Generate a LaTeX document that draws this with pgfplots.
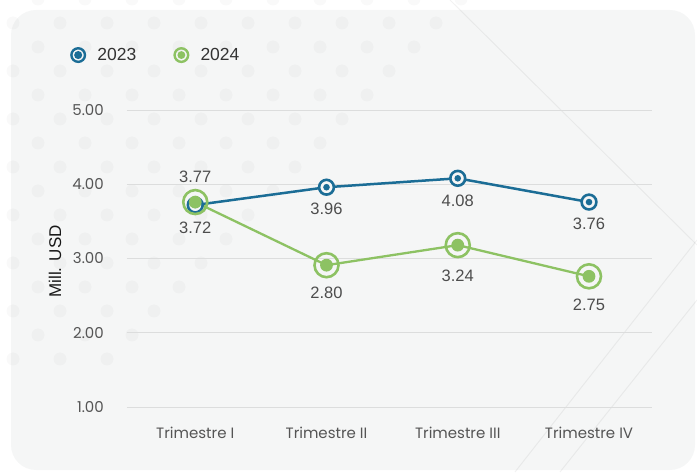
\documentclass[border=0pt]{standalone}
\usepackage{pgfplots}
\pgfplotsset{compat=1.18}
\usepackage{fontspec}
\setmainfont{Liberation Sans}
\newfontfamily\pop{Poppins}
\definecolor{bgc}{HTML}{F5F6F6}
\definecolor{cA}{HTML}{1B6D96}
\definecolor{cB}{HTML}{8DC263}
\definecolor{gridc}{HTML}{DCDDDD}
\definecolor{tickc}{HTML}{555555}
\definecolor{labc}{HTML}{4D4D4D}
\pgfdeclareplotmark{ringA}{%
  \pgfpathcircle{\pgfpointorigin}{7.4pt}%
  \pgfsetfillcolor{bgc}\pgfusepath{fill,stroke}%
  \pgfpathcircle{\pgfpointorigin}{3.3pt}%
  \pgfsetfillcolor{cA}\pgfusepath{fill}}
\pgfdeclareplotmark{ringB}{%
  \pgfpathcircle{\pgfpointorigin}{12pt}%
  \pgfusepath{stroke}%
  \pgfpathcircle{\pgfpointorigin}{6.4pt}%
  \pgfsetfillcolor{cB}\pgfusepath{fill}}
\pgfplotstableread{
x y lab off
0 3.72 3.72 -23
1 3.96 3.96 -22
2 4.08 4.08 -23
3 3.76 3.76 -22
}\tA
\pgfplotstableread{
x y lab off
0 3.76 3.77 25
1 2.91 2.80 -28
2 3.18 3.24 -31
3 2.76 2.75 -28
}\tB
\begin{document}
\begin{tikzpicture}[x=1pt,y=1pt]
\useasboundingbox (0,0) rectangle (697,472);
\begin{scope}
\clip (0,0) rectangle (697,472);
\fill[bgc, rounded corners=25pt] (11,2) rectangle (695,462);
\foreach \r in {0,...,15}{\foreach \c in {0,...,10}{%
  \pgfmathsetmacro{\px}{13+25*mod(\r+1,2)+47*\c}%
  \pgfmathsetmacro{\py}{-1+24*\r}%
  \pgfmathtruncatemacro{\ok}{(\px+\py<505)?1:0}%
  \ifnum\ok=1 \fill[black,opacity=0.025] (\px,472-\py) circle (6.5); \fi
}}
\draw[black,opacity=0.05,line width=1pt] (450,472) -- (697,227);
\draw[black,opacity=0.05,line width=1pt] (515,0) -- (697,232);
\draw[black,opacity=0.05,line width=1pt] (560,0) -- (697,172);
\end{scope}
\begin{axis}[
  at={(127pt,65pt)}, anchor=south west,
  width=525pt, height=297pt, scale only axis,
  xmin=-0.52, xmax=3.48, ymin=1, ymax=5,
  axis line style={draw=none},
  major tick length=0pt,
  xtick={0,1,2,3},
  xticklabels={Trimestre I,Trimestre II,Trimestre III,Trimestre IV},
  xticklabel style={font=\pop\fontsize{15}{17}\selectfont, text=tickc, anchor=base, yshift=-31pt},
  ytick={1,2,3,4,5},
  yticklabel style={font=\pop\fontsize{15}{17}\selectfont, text=tickc, anchor=east, inner sep=0pt, xshift=-23pt,
    /pgf/number format/.cd, fixed, fixed zerofill, precision=2, assume math mode=true},
  ymajorgrids, grid style={gridc, line width=1pt},
  ylabel={\fontsize{17}{19}\selectfont Mill. USD},
  ylabel style={text=black!90, at={(axis description cs:-0.137,0.49)}, anchor=center},
  clip=false,
  legend columns=2,
  legend style={at={(axis description cs:-0.1086,1.185)}, anchor=west, draw=none, fill=none,
    font=\fontsize{17.5}{20}\selectfont, text=black!80, inner sep=0pt,
    /tikz/every even column/.append style={column sep=35pt}},
  legend image code/.code={%
    \draw[line width=2.4pt,fill=none] (9pt,0pt) circle (6.8pt);
    \fill (9pt,0pt) circle (2.7pt);
    \path (25pt,0pt);},
  nodes near coords,
  point meta=explicit symbolic,
  visualization depends on={\thisrow{off} \as \off},
  nodes near coords style={anchor=center, yshift=\off pt, font=\fontsize{16.5}{18}\selectfont, text=labc},
]
\addplot[color=cA, line width=2.5pt, mark=ringA, mark options={line width=2.6pt}] table[x=x,y=y,meta=lab] {\tA};
\addlegendentry{2023}
\addplot[color=cB, line width=2.3pt, mark=ringB, mark options={line width=2.6pt}] table[x=x,y=y,meta=lab] {\tB};
\addlegendentry{2024}
\end{axis}
\end{tikzpicture}
\end{document}
